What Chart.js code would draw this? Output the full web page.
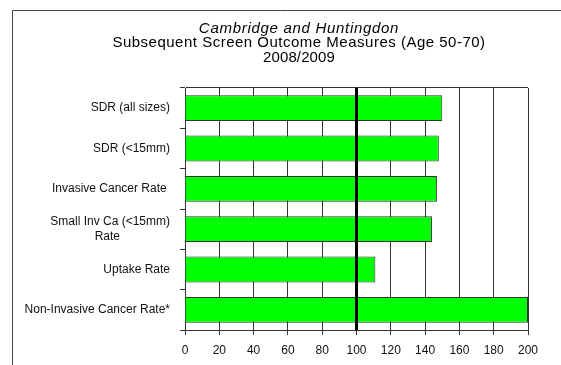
<!DOCTYPE html>
<html>
<head>
<meta charset="utf-8">
<title>Subsequent Screen Outcome Measures</title>
<script src="https://cdn.jsdelivr.net/npm/chart.js@4/dist/chart.umd.min.js"></script>
<style>
  html, body { margin: 0; padding: 0; background: #fff; }
  canvas { display: block; }
</style>
</head>
<body>
<canvas id="outcomeChart" width="561" height="365"></canvas>
<script>
// outcome measures (% of national standard)
var measures = ["SDR (all sizes)", "SDR (<15mm)", "Invasive Cancer Rate ", ["Small Inv Ca (<15mm)", "Rate               "], "Uptake Rate", "Non-Invasive Cancer Rate*"];
var scores = [150, 148, 147, 144, 111, 200];
var axisMin = 0;
var axisMax = 200;
var axisStep = 20;
var benchmark = 100;
var titleLines = ["Cambridge and Huntingdon", "Subsequent Screen Outcome Measures (Age 50-70)", "2008/2009"];

var fontFamily = "'Liberation Sans', Arial, sans-serif";

// outer frame around the whole chart
var framePlugin = {
    id: "frame",
    beforeDraw: function(chart) {
        var c = chart.ctx;
        c.save();
        c.strokeStyle = "#444";
        c.lineWidth = 1;
        c.beginPath();
        c.moveTo(12.5, chart.height + 5);
        c.lineTo(12.5, 10.5);
        c.lineTo(chart.width + 5, 10.5);
        c.stroke();
        c.restore();
    }
};

// three-line heading, centred over the plot rather than the canvas
var headingPlugin = {
    id: "heading",
    afterDraw: function(chart) {
        var c = chart.ctx;
        var cx = 299;
        var baselines = [33, 47, 62];
        var spacing = ["0.7px", "0.5px", "0.1px"];
        c.save();
        c.fillStyle = "#000";
        c.textAlign = "center";
        c.textBaseline = "alphabetic";
        titleLines.forEach(function(line, i) {
            c.font = (i === 0 ? "italic " : "") + "15px " + fontFamily;
            c.letterSpacing = spacing[i];
            c.fillText(line, cx, baselines[i]);
        });
        c.restore();
    }
};

// heavy reference line at 100, drawn on top of the bars
var benchmarkPlugin = {
    id: "benchmark",
    afterDatasetsDraw: function(chart) {
        var x = chart.scales.x.getPixelForValue(benchmark);
        var area = chart.chartArea;
        var c = chart.ctx;
        c.save();
        c.strokeStyle = "#000";
        c.lineWidth = 3;
        c.beginPath();
        c.moveTo(x, area.top);
        c.lineTo(x, area.bottom);
        c.stroke();
        c.restore();
    }
};

var ctx = document.getElementById("outcomeChart").getContext("2d");

var config = {
    type: "bar",
    data: {
        labels: measures,
        datasets: [{
            label: "Outcome",
            data: scores,
            backgroundColor: "#00ff00",
            borderColor: "#333",
            borderWidth: 1,
            categoryPercentage: 0.8,
            barPercentage: 0.8
        }]
    },
    options: {
        indexAxis: "y",
        responsive: false,
        animation: false,
        devicePixelRatio: 1,
        layout: { padding: { left: 0, right: 33, top: 88, bottom: 0 } },
        plugins: {
            legend: { display: false },
            tooltip: { enabled: false },
            title: { display: false }
        },
        scales: {
            x: {
                type: "linear",
                min: axisMin,
                max: axisMax,
                afterFit: function(scale) { scale.height = 35; },
                ticks: {
                    stepSize: axisStep,
                    color: "#111",
                    padding: 8,
                    font: { family: fontFamily, size: 12 }
                },
                grid: {
                    color: "#333",
                    lineWidth: 1,
                    tickLength: 5,
                    tickColor: "#333"
                },
                border: { color: "#333", width: 1 }
            },
            y: {
                afterFit: function(scale) { scale.width = 185; },
                ticks: {
                    color: "#111",
                    padding: 10,
                    font: { family: fontFamily, size: 12, lineHeight: 1.2 }
                },
                grid: {
                    offset: true,
                    drawOnChartArea: true,
                    // only the top boundary line is drawn across the plot
                    color: function(c) { return c.index === 0 ? "#333" : "rgba(0,0,0,0)"; },
                    tickColor: "#333",
                    tickLength: 5
                },
                border: { color: "#333", width: 1 }
            }
        }
    },
    plugins: [framePlugin, benchmarkPlugin, headingPlugin]
};

var outcomeChart = new Chart(ctx, config);
</script>
</body>
</html>
